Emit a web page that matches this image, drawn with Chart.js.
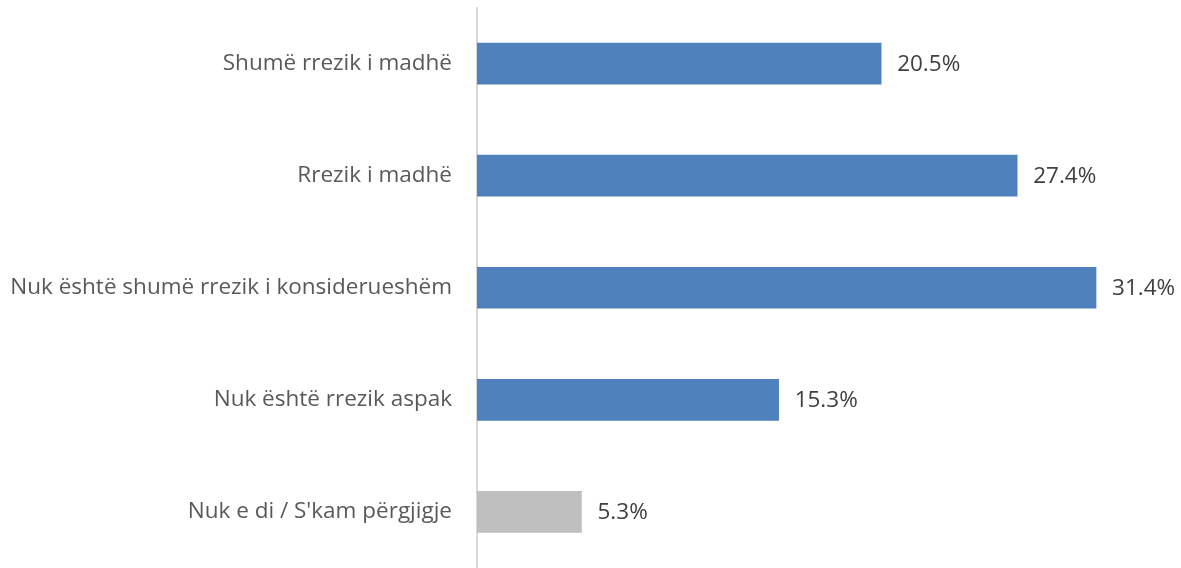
<!DOCTYPE html>
<html>
<head>
<meta charset="utf-8">
<script src="https://cdn.jsdelivr.net/npm/chart.js@4"></script>
<style>
html,body{margin:0;padding:0;background:#fff;}
#wrap{width:1181px;height:568px;position:relative;}
</style>
</head>
<body>
<div id="wrap"><canvas id="c"></canvas></div>
<script>
const categories = ["Shumë rrezik i madhë", "Rrezik i madhë", "Nuk është shumë rrezik i konsiderueshëm", "Nuk është rrezik aspak", "Nuk e di / S'kam përgjigje"];
const values = [20.5, 27.4, 31.4, 15.3, 5.3];
const barColors = ["#4f81bd", "#4f81bd", "#4f81bd", "#4f81bd", "#bfbfbf"];

const labelPlugin = {
  id: 'valueLabels',
  afterDatasetsDraw(chart) {
    const ctx = chart.ctx;
    const meta = chart.getDatasetMeta(0);
    ctx.save();
    ctx.font = '22.5px "Open Sans", sans-serif';
    ctx.fillStyle = '#404040';
    ctx.textAlign = 'left';
    ctx.textBaseline = 'middle';
    meta.data.forEach((bar, i) => {
      ctx.fillText(values[i].toFixed(1) + '%', bar.x + 16, bar.y + 1);
    });
    ctx.restore();
  }
};

new Chart(document.getElementById('c'), {
  type: 'bar',
  data: {
    labels: categories,
    datasets: [{
      data: values,
      backgroundColor: barColors,
      barThickness: 41,
      borderWidth: 0
    }]
  },
  options: {
    indexAxis: 'y',
    responsive: true,
    maintainAspectRatio: false,
    animation: false,
    layout: { padding: { top: 7.5, right: 14, bottom: -2, left: 0 } },
    plugins: { legend: { display: false }, tooltip: { enabled: false } },
    scales: {
      x: {
        min: 0, max: 35,
        display: false,
        grid: { display: false }
      },
      y: {
        grid: { display: false, drawTicks: false },
        border: { display: true, color: '#d9d9d9', width: 2 },
        ticks: {
          color: '#595959',
          padding: 25,
          font: { family: '"Open Sans", sans-serif', size: 22.5 }
        },
        afterFit(scale) {
          scale.width = 477;
          scale.paddingTop = 0;
          scale.paddingBottom = 0;
        }
      }
    }
  },
  plugins: [labelPlugin]
});
</script>
</body>
</html>
